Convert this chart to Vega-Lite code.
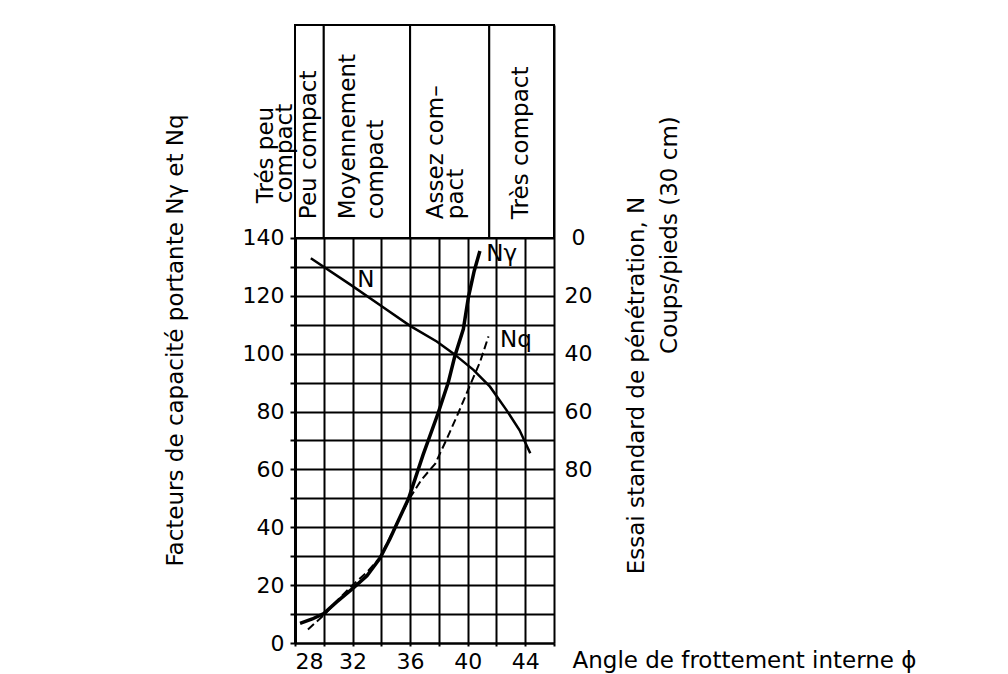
{
  "$schema": "https://vega.github.io/schema/vega-lite/v6.json",
  "width": 259,
  "height": 618,
  "autosize": {"type": "none"},
  "padding": {"left": 295, "top": 25, "right": 454, "bottom": 31},
  "background": "white",
  "config": {
    "font": "DejaVu Sans",
    "view": {"stroke": null},
    "axis": {"labelColor": "black", "titleColor": "black", "labelFont": "DejaVu Sans", "titleFont": "DejaVu Sans", "labelOverlap": false, "labelBound": false, "titleFontWeight": "normal"},
    "text": {"font": "DejaVu Sans", "fontSize": 23, "color": "black"}
  },
  "datasets": {
    "curves": [
      {"serie": "Nγ", "phi": 28.35, "valeur": 6.8},
      {"serie": "Nγ", "phi": 29.2, "valeur": 8.3},
      {"serie": "Nγ", "phi": 30.0, "valeur": 10.2},
      {"serie": "Nγ", "phi": 30.9, "valeur": 14.2},
      {"serie": "Nγ", "phi": 32.0, "valeur": 18.8},
      {"serie": "Nγ", "phi": 33.0, "valeur": 23.2},
      {"serie": "Nγ", "phi": 33.9, "valeur": 29.3},
      {"serie": "Nγ", "phi": 34.6, "valeur": 36},
      {"serie": "Nγ", "phi": 35.2, "valeur": 42.5},
      {"serie": "Nγ", "phi": 35.9, "valeur": 50},
      {"serie": "Nγ", "phi": 36.9, "valeur": 65},
      {"serie": "Nγ", "phi": 37.95, "valeur": 79.5},
      {"serie": "Nγ", "phi": 38.65, "valeur": 90},
      {"serie": "Nγ", "phi": 39.1, "valeur": 99},
      {"serie": "Nγ", "phi": 39.7, "valeur": 108.5},
      {"serie": "Nγ", "phi": 40.05, "valeur": 119.5},
      {"serie": "Nγ", "phi": 40.45, "valeur": 128.5},
      {"serie": "Nγ", "phi": 40.85, "valeur": 135.5},
      {"serie": "Nq", "phi": 28.9, "valeur": 4.7},
      {"serie": "Nq", "phi": 30.0, "valeur": 9.6},
      {"serie": "Nq", "phi": 31.0, "valeur": 15},
      {"serie": "Nq", "phi": 32.0, "valeur": 20},
      {"serie": "Nq", "phi": 33.0, "valeur": 24.5},
      {"serie": "Nq", "phi": 33.9, "valeur": 29.5},
      {"serie": "Nq", "phi": 34.8, "valeur": 38.5},
      {"serie": "Nq", "phi": 35.9, "valeur": 49.5},
      {"serie": "Nq", "phi": 36.8, "valeur": 56.5},
      {"serie": "Nq", "phi": 37.75, "valeur": 62},
      {"serie": "Nq", "phi": 38.5, "valeur": 70},
      {"serie": "Nq", "phi": 39.35, "valeur": 79.5},
      {"serie": "Nq", "phi": 40.2, "valeur": 89.5},
      {"serie": "Nq", "phi": 40.85, "valeur": 97},
      {"serie": "Nq", "phi": 41.45, "valeur": 106}
    ],
    "spt": [
      {"phi": 29.1, "N": 7},
      {"phi": 31.9, "N": 16.3},
      {"phi": 33.9, "N": 23.2},
      {"phi": 36.0, "N": 30.4},
      {"phi": 37.85, "N": 35.8},
      {"phi": 39.0, "N": 39.9},
      {"phi": 40.4, "N": 45.6},
      {"phi": 41.55, "N": 51.4},
      {"phi": 42.7, "N": 59.5},
      {"phi": 43.6, "N": 66.4},
      {"phi": 44.35, "N": 74.4}
    ],
    "compacite": [
      {"categorie": "Peu compact", "phi_min": 28, "phi_max": 30},
      {"categorie": "Moyennement compact", "phi_min": 30, "phi_max": 36},
      {"categorie": "Assez compact", "phi_min": 36, "phi_max": 41.5},
      {"categorie": "Très compact", "phi_min": 41.5, "phi_max": 46}
    ],
    "un": [{}]
  },
  "layer": [
    {
      "layer": [
        {
          "data": {"name": "curves"},
          "transform": [{"filter": "datum.serie === 'Nγ'"}],
          "mark": {"type": "line", "color": "black", "strokeWidth": 3.5},
          "encoding": {
            "x": {
              "field": "phi", "type": "quantitative",
              "scale": {"domain": [28, 46], "nice": false, "zero": false},
              "axis": {
                "orient": "bottom",
                "values": [28, 30, 32, 34, 36, 38, 40, 42, 44, 46],
                "tickCount": 20,
                "labelExpr": "((datum.value - 28) % 4 === 0 && datum.value < 46) ? datum.label : ' '",
                "grid": true, "gridColor": "black", "gridWidth": 2, "gridOpacity": 1,
                "domain": true, "domainColor": "black", "domainWidth": 2,
                "ticks": true, "tickSize": 3, "tickWidth": 2, "tickColor": "black",
                "labelPadding": 5, "labelFontSize": 22,
                "title": "Angle de frottement interne ϕ",
                "titleFontSize": 23, "titleX": 277, "titleY": 17,
                "titleAlign": "left", "titleBaseline": "middle", "titleAngle": 0
              }
            },
            "y": {
              "field": "valeur", "type": "quantitative",
              "scale": {"domain": [0, 213.6], "nice": false, "zero": false},
              "axis": {
                "orient": "left",
                "values": [0, 10, 20, 30, 40, 50, 60, 70, 80, 90, 100, 110, 120, 130, 140],
                "tickCount": 30,
                "labelExpr": "datum.value % 20 === 0 ? datum.label : ' '",
                "grid": true, "gridColor": "black", "gridWidth": 2, "gridOpacity": 1,
                "domain": true, "domainColor": "black", "domainWidth": 3,
                "ticks": true, "tickSize": 5, "tickWidth": 2, "tickColor": "black",
                "labelPadding": 6, "labelFontSize": 22,
                "title": "Facteurs de capacité portante Nγ et Nq",
                "titleFontSize": 23, "titleX": -120, "titleY": 315,
                "titleAngle": 270, "titleAlign": "center", "titleBaseline": "middle"
              }
            }
          }
        },
        {
          "data": {"name": "curves"},
          "transform": [{"filter": "datum.serie === 'Nq'"}],
          "mark": {"type": "line", "color": "black", "strokeWidth": 2, "strokeDash": [8, 4]},
          "encoding": {
            "x": {"field": "phi", "type": "quantitative", "scale": {"domain": [28, 46], "nice": false, "zero": false}},
            "y": {"field": "valeur", "type": "quantitative", "scale": {"domain": [0, 213.6], "nice": false, "zero": false}}
          }
        },
        {
          "data": {"name": "compacite"},
          "mark": {"type": "rect", "fill": "white", "stroke": "black", "strokeWidth": 2},
          "encoding": {
            "x": {"field": "phi_min", "type": "quantitative", "scale": {"domain": [28, 46], "nice": false, "zero": false}},
            "x2": {"field": "phi_max"},
            "y": {"datum": 140, "type": "quantitative", "scale": {"domain": [0, 213.6], "nice": false, "zero": false}},
            "y2": {"datum": 213.6}
          }
        },
        {
          "data": {"name": "un"},
          "mark": {"type": "text", "angle": 270, "align": "left", "baseline": "middle"},
          "encoding": {
            "x": {"datum": 29.0, "type": "quantitative", "scale": {"domain": [28, 46], "nice": false, "zero": false}},
            "y": {"datum": 146.5, "type": "quantitative", "scale": {"domain": [0, 213.6], "nice": false, "zero": false}},
            "text": {"value": "Peu compact"}
          }
        },
        {
          "data": {"name": "un"},
          "mark": {"type": "text", "angle": 270, "align": "left", "baseline": "middle", "lineHeight": 28},
          "encoding": {
            "x": {"datum": 31.68, "type": "quantitative", "scale": {"domain": [28, 46], "nice": false, "zero": false}},
            "y": {"datum": 146.5, "type": "quantitative", "scale": {"domain": [0, 213.6], "nice": false, "zero": false}},
            "text": {"value": ["Moyennement", "compact"]}
          }
        },
        {
          "data": {"name": "un"},
          "mark": {"type": "text", "angle": 270, "align": "left", "baseline": "middle", "lineHeight": 20},
          "encoding": {
            "x": {"datum": 37.8, "type": "quantitative", "scale": {"domain": [28, 46], "nice": false, "zero": false}},
            "y": {"datum": 146.5, "type": "quantitative", "scale": {"domain": [0, 213.6], "nice": false, "zero": false}},
            "text": {"value": ["Assez com–", "pact"]}
          }
        },
        {
          "data": {"name": "un"},
          "mark": {"type": "text", "angle": 270, "align": "left", "baseline": "middle"},
          "encoding": {
            "x": {"datum": 43.7, "type": "quantitative", "scale": {"domain": [28, 46], "nice": false, "zero": false}},
            "y": {"datum": 146.5, "type": "quantitative", "scale": {"domain": [0, 213.6], "nice": false, "zero": false}},
            "text": {"value": "Très compact"}
          }
        },
        {
          "data": {"name": "un"},
          "mark": {"type": "text", "angle": 270, "align": "left", "baseline": "middle", "lineHeight": 19},
          "encoding": {
            "x": {"datum": 25.98, "type": "quantitative", "scale": {"domain": [28, 46], "nice": false, "zero": false}},
            "y": {"datum": 152, "type": "quantitative", "scale": {"domain": [0, 213.6], "nice": false, "zero": false}},
            "text": {"value": ["Trés peu", "compact"]}
          }
        },
        {
          "data": {"name": "un"},
          "mark": {"type": "text", "angle": 270, "align": "center", "baseline": "middle"},
          "encoding": {
            "x": {"datum": 54.06, "type": "quantitative", "scale": {"domain": [28, 46], "nice": false, "zero": false}},
            "y": {"datum": 141, "type": "quantitative", "scale": {"domain": [0, 213.6], "nice": false, "zero": false}},
            "text": {"value": "Coups/pieds (30 cm)"}
          }
        },
        {
          "data": {"name": "un"},
          "mark": {"type": "text", "align": "center", "baseline": "middle"},
          "encoding": {
            "x": {"datum": 32.93, "type": "quantitative", "scale": {"domain": [28, 46], "nice": false, "zero": false}},
            "y": {"datum": 125.5, "type": "quantitative", "scale": {"domain": [0, 213.6], "nice": false, "zero": false}},
            "text": {"value": "N"}
          }
        },
        {
          "data": {"name": "un"},
          "mark": {"type": "text", "align": "left", "baseline": "middle"},
          "encoding": {
            "x": {"datum": 41.3, "type": "quantitative", "scale": {"domain": [28, 46], "nice": false, "zero": false}},
            "y": {"datum": 134.5, "type": "quantitative", "scale": {"domain": [0, 213.6], "nice": false, "zero": false}},
            "text": {"value": "Nγ"}
          }
        },
        {
          "data": {"name": "un"},
          "mark": {"type": "text", "align": "left", "baseline": "middle"},
          "encoding": {
            "x": {"datum": 42.25, "type": "quantitative", "scale": {"domain": [28, 46], "nice": false, "zero": false}},
            "y": {"datum": 104.7, "type": "quantitative", "scale": {"domain": [0, 213.6], "nice": false, "zero": false}},
            "text": {"value": "Nq"}
          }
        }
      ]
    },
    {
      "layer": [
        {
          "data": {"name": "spt"},
          "mark": {"type": "line", "color": "black", "strokeWidth": 2.5},
          "encoding": {
            "x": {"field": "phi", "type": "quantitative", "scale": {"domain": [28, 46], "nice": false, "zero": false}},
            "y": {
              "field": "N", "type": "quantitative",
              "scale": {"domain": [-73.6, 140], "reverse": true, "nice": false, "zero": false},
              "axis": {
                "orient": "right",
                "values": [0, 20, 40, 60, 80],
                "tickCount": 10,
                "grid": false, "domain": false, "ticks": false,
                "labelAlign": "center", "labelPadding": 24, "labelFontSize": 22,
                "title": "Essai standard de pénétration, N",
                "titleFontSize": 23, "titleX": 82, "titleY": 360,
                "titleAngle": 270, "titleAlign": "center", "titleBaseline": "middle"
              }
            }
          }
        }
      ]
    }
  ],
  "resolve": {"scale": {"y": "independent"}, "axis": {"y": "independent"}}
}
